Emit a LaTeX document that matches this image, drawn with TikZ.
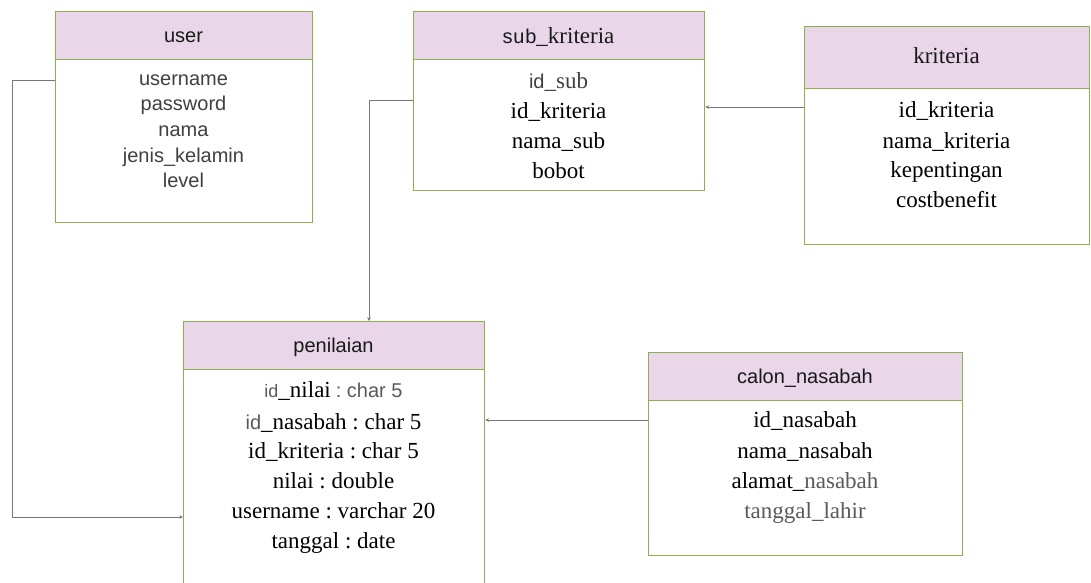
\documentclass[tikz,border=0pt]{standalone}
\usepackage{fontspec}
\setmainfont{Liberation Serif}
\setsansfont{Liberation Sans}
\usetikzlibrary{arrows.meta}
\definecolor{tgreen}{HTML}{8DB04F}
\definecolor{thead}{HTML}{E9D7E9}
\definecolor{tline}{HTML}{767676}
\definecolor{tgray}{HTML}{404040}
\definecolor{tgray2}{HTML}{5A5A5A}
\newcommand{\sa}{\fontsize{20}{22}\selectfont\sffamily}
\newcommand{\se}{\fontsize{23}{25}\selectfont\rmfamily}
\newcommand{\sas}{\fontsize{18}{20}\selectfont\sffamily}
\frenchspacing
\tikzset{
  tbox/.style={draw=tgreen, line width=1.4pt, fill=white, anchor=north west, inner sep=0pt},
  thd/.style={draw=tgreen, line width=1.4pt, fill=thead, anchor=north west, inner sep=0pt},
  htext/.style={anchor=base, inner sep=0pt, text=black!90},
  rtext/.style={anchor=base, inner sep=0pt},
  conn/.style={draw=tline, line width=1pt, -{Stealth[length=3.5pt,width=3.5pt]}}
}
\begin{document}
\begin{tikzpicture}[x=1pt,y=-1pt]
\useasboundingbox (0,0) rectangle (1091,582);
\clip (0,0) rectangle (1091,582);
% user
\node[tbox, minimum width=257pt, minimum height=211pt] (user) at (55,11) {};
\node[thd, minimum width=257pt, minimum height=48pt] (userh) at (55,11) {};
\node[htext] (userT) at (183.5,42) {\sa user};
\node[rtext, text=tgray] (u1) at (183.5,85) {\sa username};
\node[rtext, text=tgray] (u2) at (183.5,110) {\sa password};
\node[rtext, text=tgray] (u3) at (183.5,136) {\sa nama};
\node[rtext, text=tgray] (u4) at (183.5,162) {\sa jenis\_kelamin};
\node[rtext, text=tgray] (u5) at (183.5,187) {\sa level};
% sub_kriteria
\node[tbox, minimum width=291pt, minimum height=179pt] (sub) at (413,11) {};
\node[thd, minimum width=291pt, minimum height=48pt] (subh) at (413,11) {};
\node[htext] (subT) at (558.5,43) {{\sa s\kern0.8pt u\kern0.8pt b}{\se\_kriteria}};
\node[rtext, text=tgray] (s1) at (558.5,88) {{\sa id}{\se\_sub}};
\node[rtext] (s2) at (558.5,118) {\se id\_kriteria};
\node[rtext] (s3) at (558.5,148) {\se nama\_sub};
\node[rtext] (s4) at (558.5,178) {\se bobot};
% kriteria
\node[tbox, minimum width=285pt, minimum height=218pt] (krit) at (804,26) {};
\node[thd, minimum width=285pt, minimum height=62pt] (krith) at (804,26) {};
\node[htext] (kritT) at (946.5,63) {\se kriteria};
\node[rtext] (k1) at (946.5,117) {\se id\_kriteria};
\node[rtext] (k2) at (946.5,148) {\se nama\_kriteria};
\node[rtext] (k3) at (946.5,177) {\se kepentingan};
\node[rtext] (k4) at (946.5,207) {\se costbenefit};
% penilaian
\node[tbox, minimum width=301pt, minimum height=290pt] (pen) at (183,321) {};
\node[thd, minimum width=301pt, minimum height=48pt] (penh) at (183,321) {};
\node[htext] (penT) at (333.5,352) {\sa penilaian};
\node[rtext] (p1) at (333.5,397) {{\sas\color{tgray2}id}{\se\_nilai}\ \ {\sa\color{tgray2}: char 5}};
\node[rtext] (p2) at (333.5,429) {{\sa\color{tgray2}id}{\se\_nasabah : char 5}};
\node[rtext] (p3) at (333.5,458) {\se id\_kriteria : char 5};
\node[rtext] (p4) at (333.5,488) {\se nilai : double};
\node[rtext] (p5) at (333.5,518) {\se username : varchar 20};
\node[rtext] (p6) at (333.5,548) {\se tanggal : date};
% calon_nasabah
\node[tbox, minimum width=314pt, minimum height=203pt] (cal) at (648,352) {};
\node[thd, minimum width=314pt, minimum height=48pt] (calh) at (648,352) {};
\node[htext] (calT) at (805,383) {\sa calon\_nasabah};
\node[rtext] (c1) at (805,427) {\se id\_nasabah};
\node[rtext] (c2) at (805,458) {\se nama\_nasabah};
\node[rtext] (c3) at (805,488) {\se alamat\_{\color{tgray2}nasabah}};
\node[rtext, text=tgray2] (c4) at (805,518) {\se tanggal\_lahir};
% connectors
\draw[conn] ([yshift=-69pt]user.north west) -- ++(-43,0) |- ([yshift=-196pt]pen.north west);
\draw[conn] ([yshift=-89pt]sub.north west) -| ([xshift=186pt]pen.north west);
\coordinate (kstart) at ([yshift=-81pt]krit.north west);
\draw[conn] (kstart) -- (kstart -| sub.east);
\coordinate (cstart) at ([yshift=-68pt]cal.north west);
\draw[conn] (cstart) -- (cstart -| pen.east);
\end{tikzpicture}
\end{document}
